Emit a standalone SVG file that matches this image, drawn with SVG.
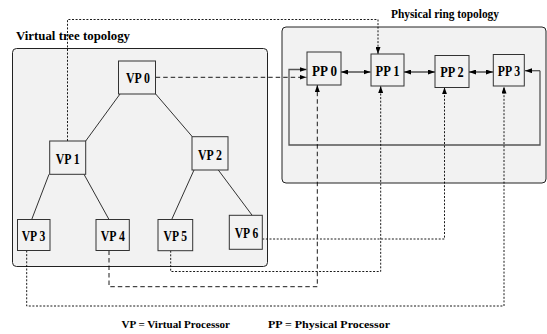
<svg xmlns="http://www.w3.org/2000/svg" width="547" height="334" viewBox="0 0 547 334">
<defs>
<marker id="ah" markerUnits="userSpaceOnUse" markerWidth="7" markerHeight="5" refX="7" refY="2.5" orient="auto-start-reverse">
<path d="M0,0 L7,2.5 L0,5 z" fill="#000"/>
</marker>
<style>
.cont{fill:#f2f2f2;stroke:#222;stroke-width:1}
.box{fill:#f2f2f2;stroke:#333;stroke-width:1}
.lbl{font-family:"Liberation Serif","Times New Roman",serif;font-weight:bold;font-size:14px;text-anchor:middle;fill:#000}
.title{font-family:"Liberation Serif","Times New Roman",serif;font-weight:bold;fill:#000}
.edge{stroke:#000;stroke-width:0.8;fill:none}
.dot{stroke:#000;stroke-width:0.9;fill:none;stroke-dasharray:2,1.6}
.dash{stroke:#000;stroke-width:0.9;fill:none;stroke-dasharray:4.5,3}
.ring{stroke:#555;stroke-width:1.3;fill:none}
.bi{stroke:#000;stroke-width:1;fill:none}
</style>
</defs>
<rect width="547" height="334" fill="#fff"/>
<g id="containers">
<rect id="virtual-container" class="cont" x="12.5" y="48.5" width="255" height="218" rx="4"/>
<rect id="physical-container" class="cont" x="282" y="27" width="264" height="156" rx="4"/>
<text class="title" x="16" y="39.5" font-size="12.5" textLength="114" lengthAdjust="spacingAndGlyphs">Virtual tree topology</text>
<text class="title" x="391" y="18" font-size="11.5" textLength="108" lengthAdjust="spacingAndGlyphs">Physical ring topology</text>
</g>
<g id="connectors">
<line class="edge" x1="120" y1="94" x2="85.7" y2="141"/>
<line class="edge" x1="155.7" y1="94" x2="192.3" y2="136.7"/>
<line class="edge" x1="49" y1="174.3" x2="31.7" y2="219.5"/>
<line class="edge" x1="84" y1="174.3" x2="109" y2="219.5"/>
<line class="edge" x1="194" y1="170" x2="171.7" y2="219.5"/>
<line class="edge" x1="218.3" y1="170" x2="252.3" y2="215.5"/>
<path class="ring" d="M540,70.7 V145 H289 V69.5 H306.5" marker-end="url(#ah)"/>
<line class="ring" x1="540" y1="70.7" x2="525" y2="70.7" marker-end="url(#ah)"/>
<line class="bi" x1="341" y1="72" x2="370.5" y2="72" marker-start="url(#ah)" marker-end="url(#ah)"/>
<line class="bi" x1="404" y1="72" x2="435" y2="72" marker-start="url(#ah)" marker-end="url(#ah)"/>
<line class="bi" x1="469" y1="72" x2="493" y2="72" marker-start="url(#ah)" marker-end="url(#ah)"/>
<path class="dash" d="M155.7,77.3 H306.5" marker-end="url(#ah)"/>
<path class="dot" d="M67.5,141 V19.5 H378 V54" marker-end="url(#ah)"/>
<path class="dot" d="M26.7,250.5 V306 H504 V86.5" marker-end="url(#ah)"/>
<path class="dash" d="M109,250.5 V286.7 H317.3 V85" marker-end="url(#ah)"/>
<path class="dot" d="M170.7,250.7 V271.5 H380.7 V86" marker-end="url(#ah)"/>
<path class="dot" d="M262.3,239 H444.5 V87.3" marker-end="url(#ah)"/>
</g>
<g id="VP0"><rect class="box" x="118.5" y="61" width="37" height="33"/><text class="lbl" x="138" y="83.3" textLength="24" lengthAdjust="spacingAndGlyphs">VP 0</text></g>
<g id="VP1"><rect class="box" x="49.7" y="141" width="36" height="33.3"/><text class="lbl" x="67.7" y="164" textLength="24" lengthAdjust="spacingAndGlyphs">VP 1</text></g>
<g id="VP2"><rect class="box" x="192" y="136.7" width="36" height="33.3"/><text class="lbl" x="210" y="159.5" textLength="24" lengthAdjust="spacingAndGlyphs">VP 2</text></g>
<g id="VP3"><rect class="box" x="17.5" y="219.5" width="32.5" height="31"/><text class="lbl" x="33.5" y="240.7" textLength="23.5" lengthAdjust="spacingAndGlyphs">VP 3</text></g>
<g id="VP4"><rect class="box" x="96" y="219.5" width="33.3" height="31"/><text class="lbl" x="112.8" y="240.7" textLength="24" lengthAdjust="spacingAndGlyphs">VP 4</text></g>
<g id="VP5"><rect class="box" x="158" y="219.5" width="34.7" height="31.2"/><text class="lbl" x="175.3" y="241" textLength="23.5" lengthAdjust="spacingAndGlyphs">VP 5</text></g>
<g id="VP6"><rect class="box" x="229.3" y="215.3" width="33" height="34"/><text class="lbl" x="246.5" y="237.7" textLength="23.5" lengthAdjust="spacingAndGlyphs">VP 6</text></g>
<g id="PP0"><rect class="box" x="307" y="52" width="34" height="33"/><text class="lbl" x="324.5" y="75.5" textLength="25" lengthAdjust="spacingAndGlyphs">PP 0</text></g>
<g id="PP1"><rect class="box" x="371" y="54" width="33" height="32"/><text class="lbl" x="387.5" y="76" textLength="24" lengthAdjust="spacingAndGlyphs">PP 1</text></g>
<g id="PP2"><rect class="box" x="435" y="55.5" width="34" height="32"/><text class="lbl" x="452" y="77" textLength="23.5" lengthAdjust="spacingAndGlyphs">PP 2</text></g>
<g id="PP3"><rect class="box" x="493.3" y="54.5" width="31" height="31.5"/><text class="lbl" x="509" y="76" textLength="22.5" lengthAdjust="spacingAndGlyphs">PP 3</text></g>
<g id="legend">
<text class="title" x="121.5" y="328" font-size="11" textLength="108.5" lengthAdjust="spacingAndGlyphs">VP = Virtual Processor</text>
<text class="title" x="268" y="328" font-size="11" textLength="122" lengthAdjust="spacingAndGlyphs">PP = Physical Processor</text>
</g>
</svg>
